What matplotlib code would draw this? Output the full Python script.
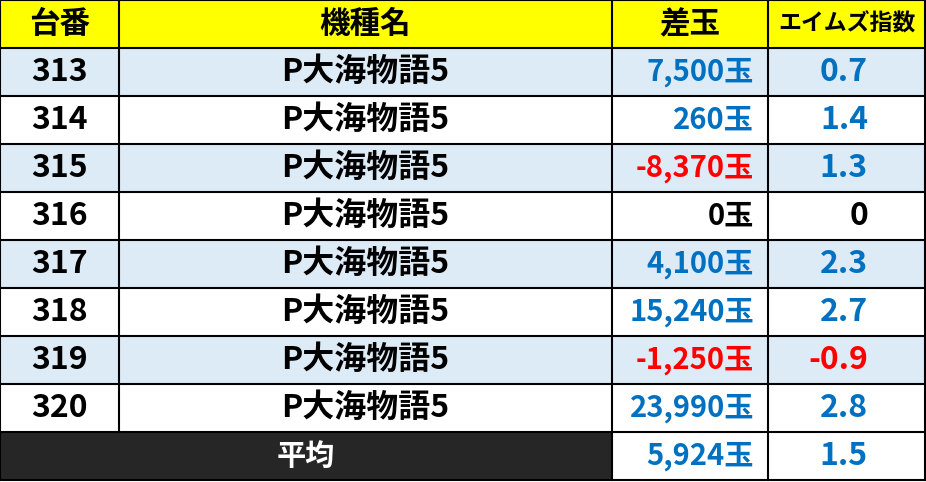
import matplotlib.pyplot as plt
from matplotlib.patches import Rectangle

plt.rcParams['font.family'] = ['Noto Sans CJK JP', 'DejaVu Sans']

headers = ['台番', '機種名', '差玉', 'エイムズ指数']
machine_no = [313, 314, 315, 316, 317, 318, 319, 320]
model = ['P大海物語5'] * 8
sadama = [7500, 260, -8370, 0, 4100, 15240, -1250, 23990]
aims = [0.7, 1.4, 1.3, 0, 2.3, 2.7, -0.9, 2.8]
avg_label = '平均'
avg_sadama = 5924
avg_aims = 1.5

W, H = 926, 482
col_x = [0, 119, 612, 768, 925]
row_h = 48
top = 0

BLUE = '#0070C0'
RED = '#FF0000'
BAND = '#DDEBF7'
YELLOW = '#FFFF00'
DARK = '#262626'


def val_color(v):
    if v > 0:
        return BLUE
    if v < 0:
        return RED
    return 'black'


def fmt_aims(v):
    return '0' if v == 0 else f'{v:.1f}'


fig = plt.figure(figsize=(W / 100, H / 100), dpi=100)
ax = fig.add_axes([0, 0, 1, 1])
ax.set_xlim(0, W)
ax.set_ylim(H, 0)
ax.axis('off')

# header
ax.add_patch(Rectangle((0, top), col_x[-1], row_h, facecolor=YELLOW, edgecolor='none'))
hsize = [22, 22, 22, 16.5]
for i, h in enumerate(headers):
    cx = (col_x[i] + col_x[i + 1]) / 2
    ax.text(cx, top + row_h / 2, h, ha='center', va='center', fontsize=hsize[i],
            fontweight='bold', color='black')

# body rows
for r in range(len(machine_no)):
    y0 = top + row_h * (r + 1)
    cy = y0 + row_h / 2
    if r % 2 == 0:
        ax.add_patch(Rectangle((0, y0), col_x[-1], row_h, facecolor=BAND, edgecolor='none'))
    ax.text((col_x[0] + col_x[1]) / 2, cy, str(machine_no[r]), ha='center', va='center',
            fontsize=23, fontweight='bold', color='black')
    ax.text((col_x[1] + col_x[2]) / 2, cy, model[r], ha='center', va='center',
            fontsize=23, fontweight='bold', color='black')
    ax.text(col_x[3] - 14, cy, f'{sadama[r]:,}玉', ha='right', va='center',
            fontsize=21, fontweight='bold', color=val_color(sadama[r]))
    ax.text(col_x[4] - 57, cy, fmt_aims(aims[r]), ha='right', va='center',
            fontsize=23, fontweight='bold', color=val_color(aims[r]))

# average row
y0 = top + row_h * (len(machine_no) + 1)
cy = y0 + row_h / 2
ax.add_patch(Rectangle((0, y0), col_x[2], row_h, facecolor=DARK, edgecolor='none'))
ax.text((col_x[0] + col_x[2]) / 2, cy, avg_label, ha='center', va='center',
        fontsize=21, fontweight='bold', color='white')
ax.text(col_x[3] - 14, cy, f'{avg_sadama:,}玉', ha='right', va='center',
        fontsize=21, fontweight='bold', color=val_color(avg_sadama))
ax.text(col_x[4] - 57, cy, fmt_aims(avg_aims), ha='right', va='center',
        fontsize=23, fontweight='bold', color=val_color(avg_aims))

# grid lines
n_rows = len(machine_no) + 2
bottom = top + row_h * n_rows
for k in range(n_rows + 1):
    y = top + row_h * k
    ax.plot([0, col_x[-1]], [y, y], color='black', lw=1.5)
for i, x in enumerate(col_x):
    if i == 1:
        ax.plot([x, x], [top, bottom - row_h], color='black', lw=1.5)
    else:
        ax.plot([x, x], [top, bottom], color='black', lw=1.5)

fig.savefig('out.png', dpi=100, facecolor='white')
